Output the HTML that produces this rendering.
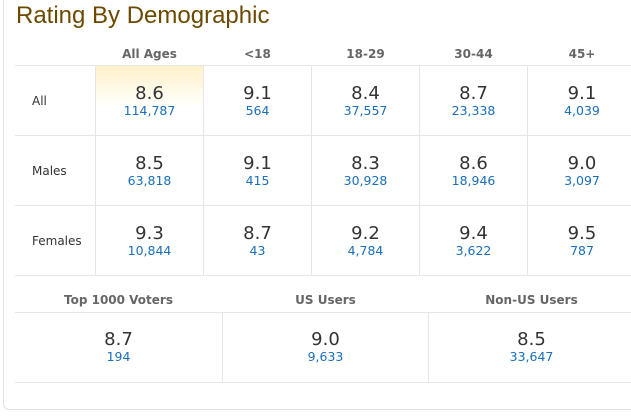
<!DOCTYPE html>
<html><head><meta charset="utf-8">
<style>
*{margin:0;padding:0;box-sizing:border-box}
body{width:631px;height:416px;background:#fff;position:relative;overflow:hidden;font-family:"DejaVu Sans","Liberation Sans",sans-serif}
.box{position:absolute;left:3px;top:-10px;width:700px;height:420px;border:1px solid #e2e2e2;border-radius:6px}
.title{position:absolute;left:16px;top:2px;font-family:"Liberation Sans",sans-serif;font-size:24px;color:#6b4a00;white-space:nowrap}
.h{position:absolute;height:1px;background:#e6e6e6}
.v{position:absolute;width:1px;background:#e6e6e6}
.hl{position:absolute;left:96px;top:66px;width:107px;height:69px;background:linear-gradient(#fff1c8,#fff 60%)}
.hd{position:absolute;font-size:12px;font-weight:bold;color:#666;line-height:14px;text-align:center;white-space:nowrap}
.lb{position:absolute;left:32px;font-size:12px;color:#333;line-height:14px}
.sc{position:absolute;font-size:18px;color:#333;line-height:20px;text-align:center}
.ct{position:absolute;font-size:12.5px;color:#1a6fba;line-height:15px;text-align:center}
</style></head><body>
<div class="box"></div>
<div class="title">Rating By Demographic</div>
<div class="hl"></div>
<div class="h" style="left:15px;top:65px;width:616px"></div>
<div class="h" style="left:15px;top:135px;width:616px"></div>
<div class="h" style="left:15px;top:205px;width:616px"></div>
<div class="h" style="left:15px;top:275px;width:616px"></div>
<div class="h" style="left:15px;top:312px;width:616px"></div>
<div class="h" style="left:15px;top:382px;width:616px"></div>
<div class="v" style="left:95px;top:65px;height:210px"></div>
<div class="v" style="left:203px;top:65px;height:210px"></div>
<div class="v" style="left:311px;top:65px;height:210px"></div>
<div class="v" style="left:419px;top:65px;height:210px"></div>
<div class="v" style="left:527px;top:65px;height:210px"></div>
<div class="v" style="left:222px;top:312px;height:70px"></div>
<div class="v" style="left:428px;top:312px;height:70px"></div>

<div class="hd" style="left:96px;width:107px;top:47px">All Ages</div>
<div class="hd" style="left:204px;width:107px;top:47px">&lt;18</div>
<div class="hd" style="left:312px;width:107px;top:47px">18-29</div>
<div class="hd" style="left:420px;width:107px;top:47px">30-44</div>
<div class="hd" style="left:528px;width:108px;top:47px">45+</div>

<div class="lb" style="top:94px">All</div>
<div class="lb" style="top:164px">Males</div>
<div class="lb" style="top:234px">Females</div>

<div class="sc" style="left:96px;width:107px;top:84px">8.6</div><div class="ct" style="left:96px;width:107px;top:103px">114,787</div>
<div class="sc" style="left:204px;width:107px;top:84px">9.1</div><div class="ct" style="left:204px;width:107px;top:103px">564</div>
<div class="sc" style="left:312px;width:107px;top:84px">8.4</div><div class="ct" style="left:312px;width:107px;top:103px">37,557</div>
<div class="sc" style="left:420px;width:107px;top:84px">8.7</div><div class="ct" style="left:420px;width:107px;top:103px">23,338</div>
<div class="sc" style="left:528px;width:108px;top:84px">9.1</div><div class="ct" style="left:528px;width:108px;top:103px">4,039</div>

<div class="sc" style="left:96px;width:107px;top:154px">8.5</div><div class="ct" style="left:96px;width:107px;top:173px">63,818</div>
<div class="sc" style="left:204px;width:107px;top:154px">9.1</div><div class="ct" style="left:204px;width:107px;top:173px">415</div>
<div class="sc" style="left:312px;width:107px;top:154px">8.3</div><div class="ct" style="left:312px;width:107px;top:173px">30,928</div>
<div class="sc" style="left:420px;width:107px;top:154px">8.6</div><div class="ct" style="left:420px;width:107px;top:173px">18,946</div>
<div class="sc" style="left:528px;width:108px;top:154px">9.0</div><div class="ct" style="left:528px;width:108px;top:173px">3,097</div>

<div class="sc" style="left:96px;width:107px;top:224px">9.3</div><div class="ct" style="left:96px;width:107px;top:243px">10,844</div>
<div class="sc" style="left:204px;width:107px;top:224px">8.7</div><div class="ct" style="left:204px;width:107px;top:243px">43</div>
<div class="sc" style="left:312px;width:107px;top:224px">9.2</div><div class="ct" style="left:312px;width:107px;top:243px">4,784</div>
<div class="sc" style="left:420px;width:107px;top:224px">9.4</div><div class="ct" style="left:420px;width:107px;top:243px">3,622</div>
<div class="sc" style="left:528px;width:108px;top:224px">9.5</div><div class="ct" style="left:528px;width:108px;top:243px">787</div>

<div class="hd" style="left:15px;width:207px;top:293px">Top 1000 Voters</div>
<div class="hd" style="left:223px;width:205px;top:293px">US Users</div>
<div class="hd" style="left:429px;width:205px;top:293px">Non-US Users</div>
<div class="sc" style="left:15px;width:207px;top:330px">8.7</div><div class="ct" style="left:15px;width:207px;top:349px">194</div>
<div class="sc" style="left:223px;width:205px;top:330px">9.0</div><div class="ct" style="left:223px;width:205px;top:349px">9,633</div>
<div class="sc" style="left:429px;width:205px;top:330px">8.5</div><div class="ct" style="left:429px;width:205px;top:349px">33,647</div>
</body></html>
